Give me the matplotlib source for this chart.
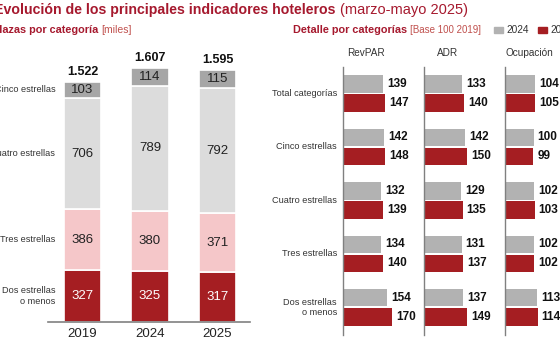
import matplotlib
matplotlib.use("Agg")
import matplotlib.pyplot as plt
from matplotlib.patches import Rectangle

plt.rcParams['font.family'] = ['Liberation Sans', 'DejaVu Sans']

# datos
years = ['2019', '2024', '2025']
cat_left = ['Dos estrellas\no menos', 'Tres estrellas', 'Cuatro estrellas', 'Cinco estrellas']
plazas = [
    [327, 325, 317],   # dos estrellas o menos
    [386, 380, 371],   # tres
    [706, 789, 792],   # cuatro
    [103, 114, 115],   # cinco
]
totales = ['1.522', '1.607', '1.595']

cat_right = ['Total categorías', 'Cinco estrellas', 'Cuatro estrellas', 'Tres estrellas', 'Dos estrellas\no menos']
indicadores = ['RevPAR', 'ADR', 'Ocupación']
v2024 = {
    'RevPAR': [139, 142, 132, 134, 154],
    'ADR': [133, 142, 129, 131, 137],
    'Ocupación': [104, 100, 102, 102, 113],
}
v2025 = {
    'RevPAR': [147, 148, 139, 140, 170],
    'ADR': [140, 150, 135, 137, 149],
    'Ocupación': [105, 99, 103, 102, 114],
}

RED = '#A51E22'
TRED = '#A6192E'
PINK = '#F5C7C9'
LGRAY = '#DCDCDC'
MGRAY = '#A6A6A6'
G24 = '#B2B2B2'
seg_colors = [RED, PINK, LGRAY, MGRAY]

W, H = 560, 360
fig = plt.figure(figsize=(5.6, 3.6), dpi=100)


def px(x, y, w, h):
    # rect in pixel coords (top-left origin) -> figure fraction
    return [x / W, (H - y - h) / H, w / W, h / H]


def fx(x):
    return x / W


def fy(y):
    return (H - y) / H


# --- panel izquierdo: plazas por categoría
ax = fig.add_axes(px(48, 40, 202, 282))
xs = range(len(years))
bottoms = [0, 0, 0]
for k, vals in enumerate(plazas):
    ax.bar(xs, vals, bottom=bottoms, width=0.55, color=seg_colors[k],
           edgecolor='white', linewidth=1.2)
    for i, v in enumerate(vals):
        ax.text(i, bottoms[i] + v / 2, str(v), ha='center', va='center',
                fontsize=9.5, color='white' if k == 0 else '#222222')
    # etiqueta de categoría alineada con 2019
    ax.text(-0.405, bottoms[0] + vals[0] / 2, cat_left[k], ha='right', va='center',
            fontsize=6.6, color='#333333', clip_on=False, linespacing=1.2)
    bottoms = [b + v for b, v in zip(bottoms, vals)]
for i, t in enumerate(totales):
    ax.text(i, bottoms[i] + 25, t, ha='center', va='bottom', fontsize=9,
            fontweight='bold', color='#111111')
ax.set_xlim(-0.511, 2.481)
ax.set_ylim(0, 1785)
ax.set_xticks(list(xs))
ax.set_xticklabels(years, fontsize=9.5, color='#222222')
ax.tick_params(axis='x', length=0, pad=4)
ax.set_yticks([])
for s in ['top', 'right', 'left']:
    ax.spines[s].set_visible(False)
ax.spines['bottom'].set_color('#808080')
ax.spines['bottom'].set_linewidth(1.2)

# --- panel derecho: detalle por categorías
lefts = [343, 424, 505]
for j, ind in enumerate(indicadores):
    a = fig.add_axes(px(lefts[j], 67, 70, 268))
    ys = list(range(len(cat_right)))
    a.barh([y - 0.178 for y in ys], v2024[ind], height=0.32, color=G24)
    a.barh([y + 0.178 for y in ys], v2025[ind], height=0.32, color=RED)
    for y, v in zip(ys, v2024[ind]):
        a.text(v + 14, y - 0.178, str(v), va='center', ha='left', fontsize=8.5,
               fontweight='bold', color='#111111', clip_on=False)
    for y, v in zip(ys, v2025[ind]):
        a.text(v + 14, y + 0.178, str(v), va='center', ha='left', fontsize=8.5,
               fontweight='bold', color='#111111', clip_on=False)
    a.set_xlim(0, 244)
    a.set_ylim(4.515, -0.495)
    a.set_xticks([])
    a.set_yticks([])
    for s in ['top', 'right', 'bottom']:
        a.spines[s].set_visible(False)
    a.spines['left'].set_color('#808080')
    a.spines['left'].set_linewidth(1.0)
    if j == 0:
        for y, c in zip(ys, cat_right):
            a.text(-21, y, c, ha='right', va='center', fontsize=6.6,
                   color='#333333', clip_on=False, linespacing=1.25)

header_x = [366, 448, 529]
for hx, ind in zip(header_x, indicadores):
    fig.text(fx(hx), fy(53), ind, ha='center', va='center', fontsize=7.2, color='#333333')

# --- títulos
r = fig.canvas.get_renderer()


def two_part(x, y, bold, normal, size, size2, c1, c2, gap=3):
    t = fig.text(fx(x), fy(y), bold, fontsize=size, fontweight='bold', color=c1,
                 ha='left', va='center')
    bb = t.get_window_extent(renderer=r)
    fig.text(bb.x1 / W + fx(gap), fy(y), normal, fontsize=size2, color=c2,
             ha='left', va='center')


two_part(-6, 10, 'Evolución de los principales indicadores hoteleros',
         '(marzo-mayo 2025)', 10.2, 10.5, TRED, TRED, gap=5)
two_part(-8, 30, 'Plazas por categoría', '[miles]', 7.8, 7.5, TRED, '#C0504D')
two_part(293, 30, 'Detalle por categorías', '[Base 100 2019]', 7.8, 7.0, TRED, '#C0504D')

# leyenda
fig.patches.append(Rectangle((fx(494), fy(33)), fx(9), 6 / H, transform=fig.transFigure,
                             color=G24, figure=fig))
fig.text(fx(506), fy(30), '2024', fontsize=7.3, color='#333333', va='center')
fig.patches.append(Rectangle((fx(538), fy(33)), fx(9), 6 / H, transform=fig.transFigure,
                             color=RED, figure=fig))
fig.text(fx(550), fy(30), '2025', fontsize=7.3, color='#333333', va='center')

fig.savefig('out.png', dpi=100)
